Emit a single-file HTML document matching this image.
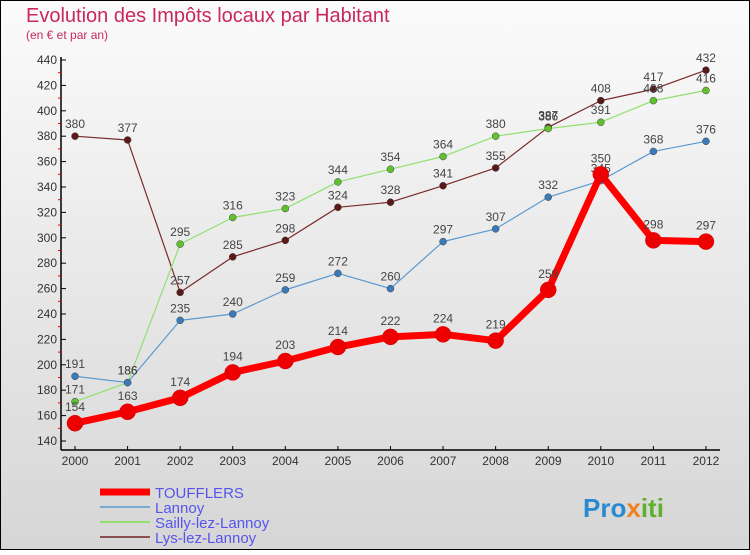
<!DOCTYPE html>
<html><head><meta charset="utf-8"><style>
html,body{margin:0;padding:0;}
body{width:750px;height:550px;overflow:hidden;font-family:"Liberation Sans",sans-serif;}
</style></head><body>
<svg id="c" width="750" height="550" xmlns="http://www.w3.org/2000/svg">
<defs><linearGradient id="bg" x1="0" y1="0" x2="0" y2="1"><stop offset="0" stop-color="#fbfbfb"/><stop offset="1" stop-color="#d6d6d6"/></linearGradient></defs>
<rect x="0.5" y="0.5" width="749" height="549" fill="url(#bg)" stroke="#000"/>
<text x="26" y="22" font-size="20" fill="#c8285a">Evolution des Impôts locaux par Habitant</text>
<text x="26" y="39" font-size="12" fill="#c8285a">(en € et par an)</text>
<g id="axes"></g><g id="series"></g><g id="legend"></g>
<text x="583" y="517" font-size="26" font-weight="bold" fill="#2a8ad0">Pro<tspan fill="#f08020">x</tspan><tspan fill="#60b030">iti</tspan></text>
</svg>
<script>
const years=[2000,2001,2002,2003,2004,2005,2006,2007,2008,2009,2010,2011,2012];
const yTicks=[140,160,180,200,220,240,260,280,300,320,340,360,380,400,420,440];
const touf=[154,163,174,194,203,214,222,224,219,259,350,298,297];
const lannoy=[191,186,235,240,259,272,260,297,307,332,345,368,376];
const sailly=[171,186,295,316,323,344,354,364,380,386,391,408,416];
const lys=[380,377,257,285,298,324,328,341,355,387,408,417,432];
const names=["TOUFFLERS","Lannoy","Sailly-lez-Lannoy","Lys-lez-Lannoy"];
const NS="http://www.w3.org/2000/svg";
const X=i=>75+i*52.58;
const Y=v=>441-(v-140)*(381/300);
function mk(t,a,p){const e=document.createElementNS(NS,t);for(const k in a)e.setAttribute(k,a[k]);p.appendChild(e);return e;}
const ax=document.getElementById('axes');
let l=mk('line',{x1:61,y1:57,x2:61,y2:450,stroke:'#000','stroke-width':1.5},ax);


l=mk('line',{x1:61,y1:450,x2:720,y2:450,stroke:'#000','stroke-width':1.5},ax);


yTicks.forEach((v,i)=>{
  mk('line',{x1:61,y1:Y(v),x2:66,y2:Y(v),stroke:'#000'},ax);
  if(i<yTicks.length-1)mk('line',{x1:58,y1:Y(v+10),x2:61,y2:Y(v+10),stroke:'#e00'},ax);
  const t=mk('text',{x:57,y:Y(v)+4,'font-size':12,fill:'#333','text-anchor':'end'},ax);t.textContent=v;
  
  
});
years.forEach((y,i)=>{
  mk('line',{x1:X(i),y1:446,x2:X(i),y2:450,stroke:'#000'},ax);
  const t=mk('text',{x:X(i),y:465,'font-size':12,fill:'#333','text-anchor':'middle'},ax);t.textContent=y;
  
  
});
const sg=document.getElementById('series');
const defs=[[lys,'#7a2a2a','#5a1818',1.2,3.5,'lys'],[sailly,'#90e070','#60c030',1.2,3.5,'sailly'],[lannoy,'#5a9ad0','#3a7ab8',1.2,3.5,'lannoy'],[touf,'#ff0000','#ee0000',7,8,'toufflers']];
defs.forEach(([d,c,mc,w,r,n])=>{
  const g=mk('g',{},sg);
  
  
  const pl=mk('polyline',{points:d.map((v,i)=>X(i)+','+Y(v)).join(' '),fill:'none',stroke:c,'stroke-width':w,'stroke-linejoin':'round'},g);
  
  
  d.forEach((v,i)=>{
    const p=mk('circle',{cx:X(i),cy:Y(v),r:r,fill:mc,stroke:n==='toufflers'?'#cc0000':'#444','stroke-width':0.5},g);
    
    
    const t=mk('text',{x:X(i),y:Y(v)-(n==='toufflers'?12:8),'font-size':12,fill:'#444','text-anchor':'middle'},g);t.textContent=v;
    
    
  });
});
const lg=document.getElementById('legend');
const lc=[['#ff0000',7],['#7aaad0',2],['#90e070',2],['#8a5050',2]];
names.forEach((nm,i)=>{
  const y=492+i*15;
  const ln=mk('line',{x1:100,y1:y,x2:150,y2:y,stroke:lc[i][0],'stroke-width':lc[i][1]},lg);
  
  
  const t=mk('text',{x:155,y:y+6,'font-size':15,fill:'#5555ee'},lg);t.textContent=nm;
  
  
});
</script>
</body></html>
